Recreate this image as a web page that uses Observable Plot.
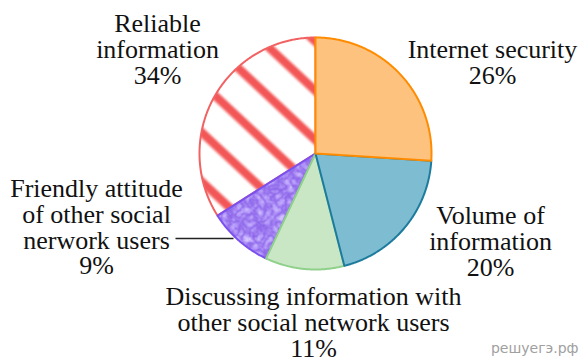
<!DOCTYPE html>
<html>
<head>
<meta charset="utf-8">
<script src="https://cdn.jsdelivr.net/npm/d3@7"></script>
<script src="https://cdn.jsdelivr.net/npm/@observablehq/plot@0.6"></script>
<style>
  html, body { margin: 0; padding: 0; background: #fff; overflow: hidden; }
  #chart { width: 582px; height: 358px; }
</style>
</head>
<body>
<div id="chart"></div>
<script>
// ---- data ----
const categories = [
  "Internet security",
  "Volume of\ninformation",
  "Discussing information with\nother social network users",
  "Friendly attitude\nof other social\nnerwork users",
  "Reliable\ninformation"
];
const values = [26, 20, 11, 9, 34];

// ---- styles / layout (not data) ----
const fills = ["#fdc27e", "#7ebdd1", "#c9e7c5", "url(#purpleTex)", "url(#stripes)"];
const strokes = ["#ff8c00", "#1d7b9d", "#8fd08b", "#7b50ee", "#f26262"];
const W = 582, H = 358, CX = 315, CY = 153, R = 116;
const SERIF = "'Liberation Serif', 'Times New Roman', Times, 'DejaVu Serif', serif";
// label top anchor positions in pixels
const labelPx = [[492, 39.5], [490, 205.5], [313, 286.5], [96, 178.5], [157, 13.5]];
const leaderPx = [[175, 238], [233, 238]];

// derive slice polygons from values
const total = d3.sum(values);
let acc = 0;
const slices = values.map((v, i) => {
  const a0 = acc / total * 2 * Math.PI;
  acc += v;
  const a1 = acc / total * 2 * Math.PI;
  const pts = [{x: 0, y: 0}];
  const n = Math.max(2, Math.ceil((a1 - a0) / (Math.PI / 360)));
  for (let k = 0; k <= n; k++) {
    const a = a0 + (a1 - a0) * k / n;
    pts.push({x: R * Math.sin(a), y: R * Math.cos(a)});
  }
  return {i, pts};
});

const toX = px => px - CX;
const toY = py => CY - py;
const labels = categories.map((c, i) => ({
  text: `${c}\n${values[i]}%`,
  x: toX(labelPx[i][0]),
  y: toY(labelPx[i][1])
}));

const marks = [];
[4, 3, 2, 1, 0].forEach(i => {
  marks.push(Plot.line(slices[i].pts, {
    x: "x", y: "y", curve: "linear-closed",
    fill: fills[i], stroke: strokes[i], strokeWidth: 2, strokeLinejoin: "round"
  }));
});
marks.push(Plot.link([{x1: toX(leaderPx[0][0]), y1: toY(leaderPx[0][1]), x2: toX(leaderPx[1][0]), y2: toY(leaderPx[1][1])}], {
  x1: "x1", y1: "y1", x2: "x2", y2: "y2", stroke: "#222", strokeWidth: 1.5
}));
marks.push(Plot.text(labels, {
  x: "x", y: "y", text: "text", textAnchor: "middle", lineAnchor: "top",
  lineHeight: 0.99, fontSize: 26, fontFamily: SERIF, fill: "#111"
}));
marks.push(Plot.text(["решуегэ.рф"], {
  frameAnchor: "bottom-right", dx: -4, dy: -6, fontSize: 14,
  fontFamily: "'DejaVu Sans', sans-serif", fill: "#a0a0a0"
}));

const svg = Plot.plot({
  width: W, height: H, margin: 0,
  x: {domain: [-CX, W - CX], axis: null},
  y: {domain: [CY - H, CY], axis: null},
  marks
});

// make sure the serif family is applied to the labels
d3.select(svg).selectAll("text").filter(function() { return this.textContent !== "решуегэ.рф"; })
  .style("font-family", SERIF);

const defs = `
<filter id="stripeBlur" x="-20%" y="-100%" width="140%" height="300%"><feGaussianBlur stdDeviation="1.3"/></filter>
<pattern id="stripes" patternUnits="userSpaceOnUse" x="0" y="18" width="36" height="36" patternTransform="rotate(43)">
  <rect x="0" y="0" width="36" height="36" fill="#ffffff"/>
  <rect x="-12" y="9" width="60" height="8.5" fill="#f25757" filter="url(#stripeBlur)"/>
</pattern>
<filter id="purpleNoise" filterUnits="userSpaceOnUse" x="0" y="0" width="${W}" height="${H}" color-interpolation-filters="sRGB">
  <feTurbulence type="turbulence" baseFrequency="0.14" numOctaves="2" seed="7" result="n"/>
  <feColorMatrix in="n" type="matrix" values="0.42 0 0 0 0.54  0.56 0 0 0 0.38  0.16 0 0 0 0.91  0 0 0 0 1"/>
</filter>
<pattern id="purpleTex" patternUnits="userSpaceOnUse" width="${W}" height="${H}">
  <rect x="0" y="0" width="${W}" height="${H}" fill="#a98bf4" filter="url(#purpleNoise)"/>
</pattern>`;
d3.select(svg).insert("defs", ":first-child").html(defs);
document.getElementById("chart").appendChild(svg);
</script>
</body>
</html>
